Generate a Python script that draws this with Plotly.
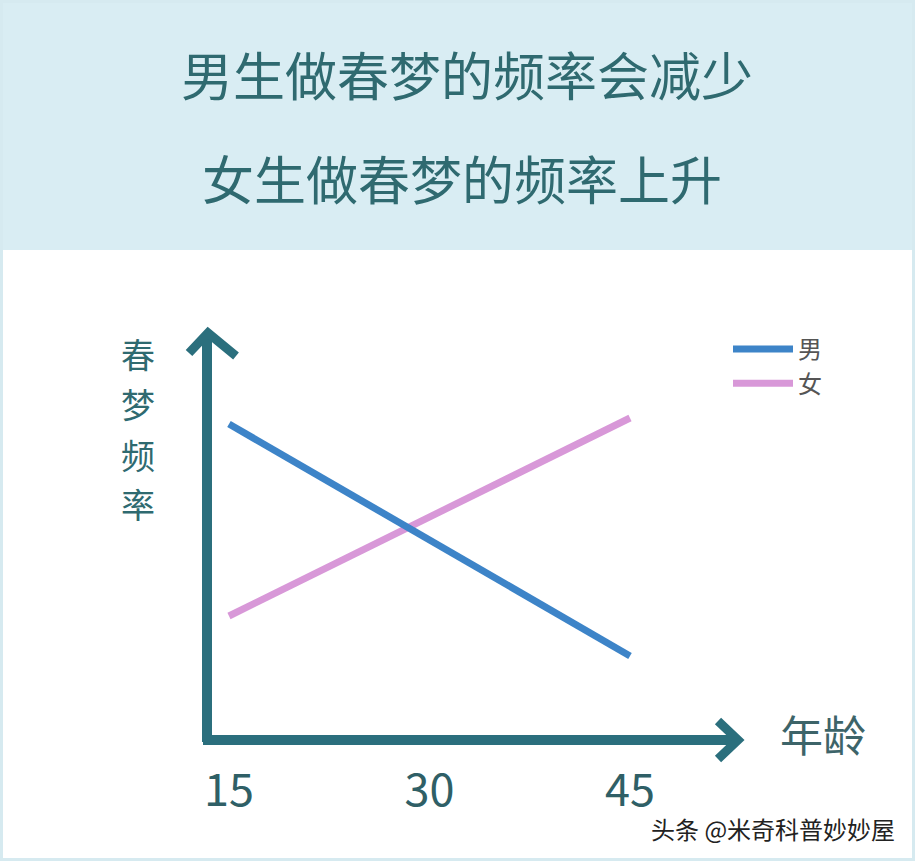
import plotly.graph_objects as go

# data
ages = [15, 45]
male = [7.9, 2.1]
female = [3.1, 8.05]
tick_vals = [15, 30, 45]
tick_text = ["15", "30", "45"]
title_lines = ["男生做春梦的频率会减少", "女生做春梦的频率上升"]
y_title = "春梦频率"
x_title = "年龄"
series_names = ["男", "女"]

W, H = 915, 861
FONT = "Noto Sans CJK SC"
TEAL = "#2b6f7d"
TEXT = "#2f6a70"
BLUE = "#3d84c8"
PINK = "#d898d8"

def px(xp):
    return xp / W

def py(yp):
    return 1 - yp / H

fig = go.Figure()
fig.add_trace(go.Scatter(x=ages, y=female, mode="lines", name=series_names[1],
                         line=dict(color=PINK, width=7), legendrank=2))
fig.add_trace(go.Scatter(x=ages, y=male, mode="lines", name=series_names[0],
                         line=dict(color=BLUE, width=7), legendrank=1))

shapes = []
# header band
shapes.append(dict(type="rect", xref="paper", yref="paper", x0=0, x1=1, y0=py(250), y1=1,
                   fillcolor="#d9edf3", line=dict(width=0), layer="below"))
# frame
shapes.append(dict(type="rect", xref="paper", yref="paper", x0=px(1.5), x1=px(W - 1.5), y0=py(H - 1.5), y1=py(1.5),
                   fillcolor="rgba(0,0,0,0)", line=dict(color="#d6eaf0", width=3), layer="below"))
# y axis arrow
shapes.append(dict(type="path", xref="paper", yref="paper",
                   path=f"M {px(207)},{py(742)} L {px(207)},{py(334)}",
                   line=dict(color=TEAL, width=10)))
shapes.append(dict(type="path", xref="paper", yref="paper",
                   path=f"M {px(189)},{py(353)} L {px(208)},{py(333)} L {px(236)},{py(356)}",
                   line=dict(color=TEAL, width=9)))
# x axis arrow
shapes.append(dict(type="path", xref="paper", yref="paper",
                   path=f"M {px(203)},{py(740)} L {px(737)},{py(740)}",
                   line=dict(color=TEAL, width=10)))
shapes.append(dict(type="path", xref="paper", yref="paper",
                   path=f"M {px(718)},{py(721)} L {px(738)},{py(740)} L {px(718)},{py(759)}",
                   line=dict(color=TEAL, width=9)))

annotations = [
    dict(text=title_lines[0], x=px(467), y=py(74), xref="paper", yref="paper", showarrow=False,
         font=dict(family=FONT, size=52, color=TEXT), xanchor="center", yanchor="middle"),
    dict(text=title_lines[1], x=px(462), y=py(178), xref="paper", yref="paper", showarrow=False,
         font=dict(family=FONT, size=52, color=TEXT), xanchor="center", yanchor="middle"),
    dict(text=x_title, x=px(823), y=py(733), xref="paper", yref="paper", showarrow=False,
         font=dict(family=FONT, size=43, color="#3d6469"), xanchor="center", yanchor="middle"),
    dict(text="头条 @米奇科普妙妙屋", x=px(773), y=py(828), xref="paper", yref="paper",
         showarrow=False, font=dict(family=FONT, size=24, color="#222222"),
         xanchor="center", yanchor="middle"),
]
for i, ch in enumerate(y_title):
    annotations.append(dict(text=ch, x=px(138), y=py(354 + 50 * i), xref="paper", yref="paper",
                            showarrow=False, font=dict(family=FONT, size=34, color=TEXT),
                            xanchor="center", yanchor="middle", borderpad=0))

fig.update_layout(
    width=W, height=H,
    margin=dict(l=0, r=0, t=0, b=0),
    paper_bgcolor="white", plot_bgcolor="rgba(0,0,0,0)",
    shapes=shapes, annotations=annotations,
    showlegend=True,
    legend=dict(x=px(728), y=py(327), xanchor="left", yanchor="top",
                font=dict(family=FONT, size=24, color="#555555"),
                bgcolor="rgba(0,0,0,0)", itemwidth=60, tracegroupgap=0),
    xaxis=dict(range=[-2.13, 66.32], domain=[0, 1], showgrid=False, zeroline=False,
               showline=False, tickvals=tick_vals, ticktext=tick_text, ticks="",
               tickfont=dict(family=FONT, size=45, color="#2f5f66"), fixedrange=True),
    yaxis=dict(range=[-0.5, 18.5], domain=[(H - 760) / H, 1], showgrid=False, zeroline=False,
               showline=False, showticklabels=False, fixedrange=True),
)

fig.write_html("out.html", config={"displayModeBar": False},
               post_script="document.body.style.margin='0';document.body.style.overflow='hidden';")
